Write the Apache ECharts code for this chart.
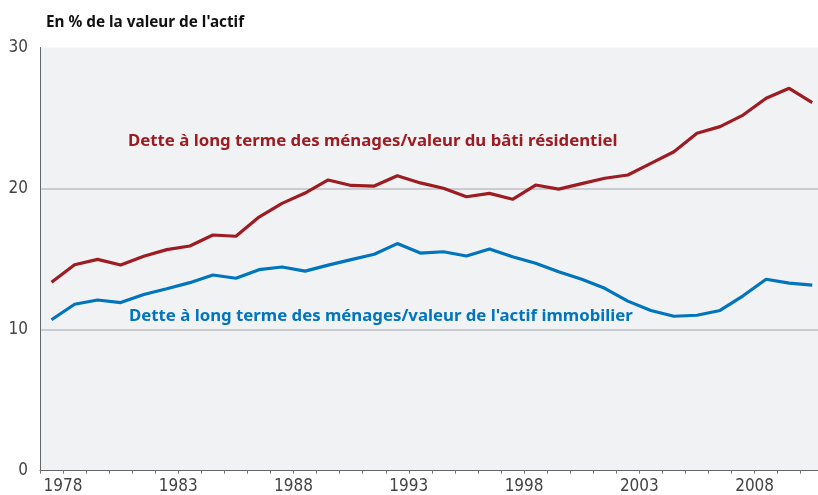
<!DOCTYPE html>
<html>
<head>
<meta charset="utf-8">
<script src="https://cdn.jsdelivr.net/npm/echarts@6/dist/echarts.min.js"></script>
<style>
html,body{margin:0;padding:0;background:#fff;}
#chart{width:818px;height:495px;}
</style>
</head>
<body>
<div id="chart"></div>
<script>
var years = [1977,1978,1979,1980,1981,1982,1983,1984,1985,1986,1987,1988,1989,1990,1991,1992,1993,1994,1995,1996,1997,1998,1999,2000,2001,2002,2003,2004,2005,2006,2007,2008,2009,2010];
var batiResidentiel = [13.36,14.6,14.98,14.58,15.2,15.67,15.93,16.71,16.62,17.98,18.95,19.68,20.61,20.22,20.18,20.91,20.4,20.02,19.42,19.66,19.24,20.25,19.96,20.35,20.73,20.96,21.79,22.61,23.92,24.39,25.21,26.4,27.11,26.09];
var actifImmobilier = [10.7,11.8,12.1,11.92,12.49,12.9,13.33,13.87,13.64,14.25,14.44,14.15,14.57,14.96,15.34,16.1,15.43,15.52,15.22,15.72,15.17,14.7,14.11,13.57,12.93,12.02,11.36,10.95,11.02,11.36,12.4,13.57,13.3,13.16];
var yTicks = [0,10,20,30];
var xLabelYears = [1978,1983,1988,1993,1998,2003,2008];
var titleText = "En % de la valeur de l'actif";
var redLabel = "Dette à long terme des ménages/valeur du bâti résidentiel";
var blueLabel = "Dette à long terme des ménages/valeur de l'actif immobilier";

var RED = '#9d1c22';
var BLUE = '#0074bd';
var numFont = "'Liberation Sans Narrow','DejaVu Sans Condensed',sans-serif";

function pts(arr){ return years.map(function(y,i){ return [y+0.5, arr[i]]; }); }

var chart = echarts.init(document.getElementById('chart'));
chart.setOption({
  animation:false,
  backgroundColor:'#ffffff',
  title:{
    text:titleText, left:46, top:15, padding:0,
    textStyle:{fontFamily:'Noto Sans',fontWeight:'bold',fontSize:15.3,color:'#111'}
  },
  grid:{left:40,top:47.5,right:0,bottom:24.3,show:true,backgroundColor:'#f1f2f4',borderWidth:0},
  xAxis:{
    type:'value', min:1977, max:2010.75, interval:1,
    axisLine:{show:true,onZero:false,lineStyle:{color:'#666',width:1}},
    axisTick:{show:true,length:3,lineStyle:{color:'#777'}},
    splitLine:{show:false},
    axisLabel:{
      margin:7, color:'#444', fontSize:17, fontFamily:numFont,
      showMaxLabel:false,
      formatter:function(v){ return xLabelYears.indexOf(Math.round(v))>=0 ? String(Math.round(v)) : ''; }
    }
  },
  yAxis:{
    type:'value', min:yTicks[0], max:yTicks[yTicks.length-1], interval:10,
    axisLine:{show:true,lineStyle:{color:'#666',width:1}},
    axisTick:{show:false},
    splitLine:{show:true,showMinLine:false,showMaxLine:false,lineStyle:{color:'#cbcccf',width:2}},
    axisLabel:{margin:12,color:'#444',fontSize:17,fontFamily:numFont,padding:[0,0,8,0]}
  },
  series:[
    {type:'line',name:redLabel,data:pts(batiResidentiel),symbol:'none',lineStyle:{color:RED,width:3.2},itemStyle:{color:RED}},
    {type:'line',name:blueLabel,data:pts(actifImmobilier),symbol:'none',lineStyle:{color:BLUE,width:3.2},itemStyle:{color:BLUE}}
  ],
  graphic:[
    {type:'text',left:128,top:133,style:{text:redLabel,fill:RED,font:"bold 16.8px 'Noto Sans'"}},
    {type:'text',left:129,top:308,style:{text:blueLabel,fill:BLUE,font:"bold 16.8px 'Noto Sans'"}}
  ]
});
</script>
</body>
</html>
